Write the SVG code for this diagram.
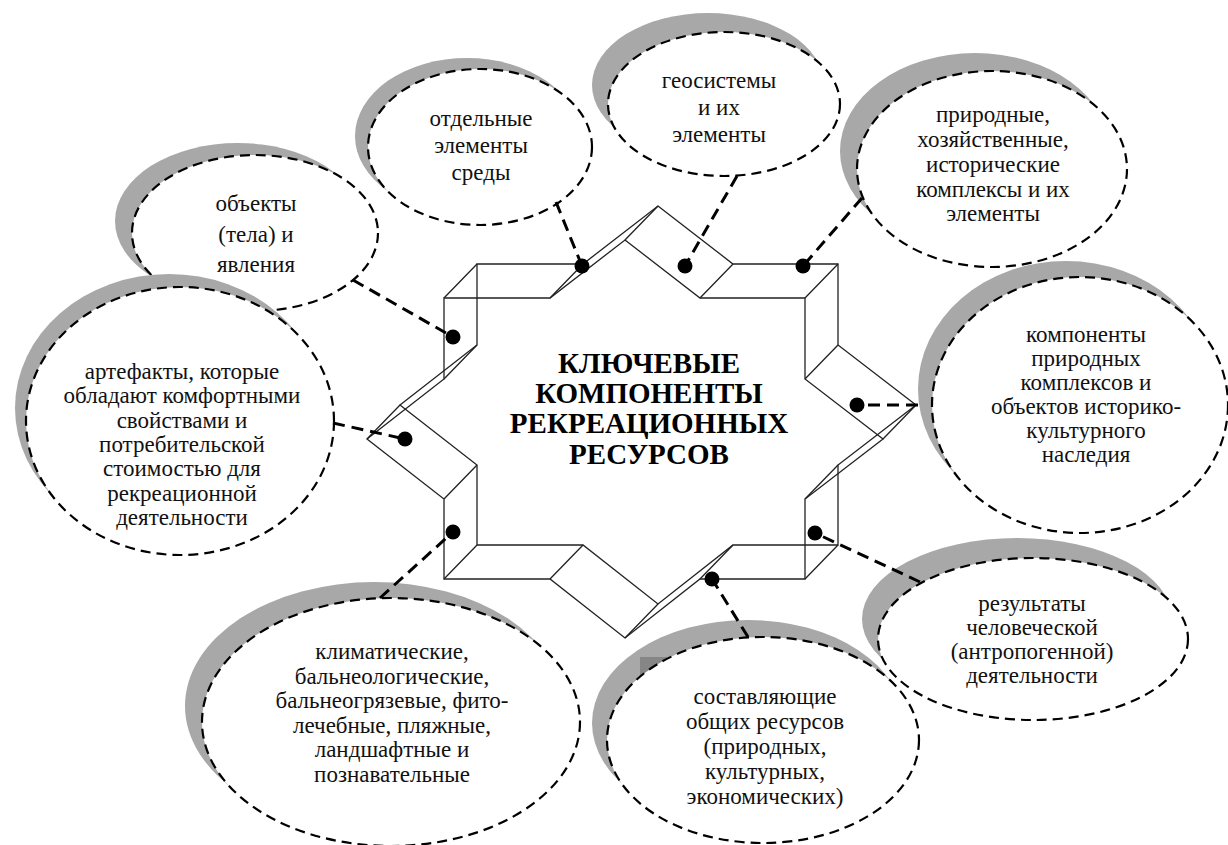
<svg xmlns="http://www.w3.org/2000/svg" width="1228" height="845" viewBox="0 0 1228 845">
<style>
.shadow{fill:#a8a8a8}
.oval{fill:#ffffff;stroke:#000;stroke-width:2.2;stroke-dasharray:10 6}
text{font-family:"Liberation Serif",Tinos,"Times New Roman",Times,"DejaVu Serif",serif}
.txt{font-size:23px;fill:#111;text-anchor:middle}
.title{font-size:29px;font-weight:bold;fill:#000;text-anchor:middle}
.star{fill:none;stroke:#222;stroke-width:1.3;stroke-linejoin:miter}
.conn{fill:none;stroke:#000;stroke-width:3;stroke-dasharray:12 7}
.dot{fill:#000}
</style>
<rect width="1228" height="845" fill="#fff"/>
<g id="center">
<polygon class="star" points="658,206 733,264 838,264 838,345 916,405 838,465 838,545 733,545 658,604 583,545 477,545 477,465 400,405 477,345 477,264 583,264"/>
<polygon class="star" transform="translate(-33,34)" points="658,206 733,264 838,264 838,345 916,405 838,465 838,545 733,545 658,604 583,545 477,545 477,465 400,405 477,345 477,264 583,264"/>
<path class="star" d="M658,206l-33,34M733,264l-33,34M838,264l-33,34M838,345l-33,34M916,405l-33,34M838,465l-33,34M838,545l-33,34M733,545l-33,34M658,604l-33,34M583,545l-33,34M477,545l-33,34M477,465l-33,34M400,405l-33,34M477,345l-33,34M477,264l-33,34M583,264l-33,34"/>
<text class="title"><tspan x="649" y="373">КЛЮЧЕВЫЕ</tspan><tspan x="649" y="403">КОМПОНЕНТЫ</tspan><tspan x="649" y="433">РЕКРЕАЦИОННЫХ</tspan><tspan x="649" y="464">РЕСУРСОВ</tspan></text>
</g>
<g id="n-objects">
<ellipse class="shadow" cx="238" cy="221" rx="123" ry="78"/>
<ellipse class="oval" cx="255" cy="233" rx="123" ry="78"/>
<text class="txt"><tspan x="256" y="211">объекты</tspan><tspan x="256" y="242">(тела) и</tspan><tspan x="256" y="272">явления</tspan></text>
</g>
<g id="n-separate">
<ellipse class="shadow" cx="467" cy="136" rx="112" ry="78"/>
<ellipse class="oval" cx="480" cy="147" rx="112" ry="78"/>
<text class="txt"><tspan x="481" y="126">отдельные</tspan><tspan x="481" y="153">элементы</tspan><tspan x="481" y="180">среды</tspan></text>
</g>
<g id="n-geo">
<ellipse class="shadow" cx="708" cy="85" rx="116" ry="72"/>
<ellipse class="oval" cx="724" cy="104" rx="116" ry="72"/>
<text class="txt"><tspan x="719" y="88">геосистемы</tspan><tspan x="719" y="115">и их</tspan><tspan x="719" y="142">элементы</tspan></text>
</g>
<g id="n-natural">
<ellipse class="shadow" cx="975" cy="151" rx="135" ry="98"/>
<ellipse class="oval" cx="992" cy="169" rx="135" ry="98"/>
<text class="txt"><tspan x="993" y="122">природные,</tspan><tspan x="993" y="147">хозяйственные,</tspan><tspan x="993" y="172">исторические</tspan><tspan x="993" y="197">комплексы и их</tspan><tspan x="993" y="221">элементы</tspan></text>
</g>
<g id="n-components">
<ellipse class="shadow" cx="1066" cy="389" rx="148" ry="128"/>
<ellipse class="oval" cx="1080" cy="405" rx="148" ry="128"/>
<text class="txt"><tspan x="1086" y="342">компоненты</tspan><tspan x="1086" y="366">природных</tspan><tspan x="1086" y="390">комплексов и</tspan><tspan x="1086" y="414">объектов историко-</tspan><tspan x="1086" y="438">культурного</tspan><tspan x="1086" y="462">наследия</tspan></text>
</g>
<g id="n-artefacts">
<ellipse class="shadow" cx="169" cy="408" rx="154" ry="134"/>
<ellipse class="oval" cx="180" cy="421" rx="154" ry="134"/>
<text class="txt"><tspan x="182" y="379">артефакты, которые</tspan><tspan x="182" y="403">обладают комфортными</tspan><tspan x="182" y="428">свойствами и</tspan><tspan x="182" y="452">потребительской</tspan><tspan x="182" y="476">стоимостью для</tspan><tspan x="182" y="501">рекреационной</tspan><tspan x="182" y="525">деятельности</tspan></text>
</g>
<g id="n-climatic">
<ellipse class="shadow" cx="374" cy="706" rx="189" ry="124"/>
<ellipse class="oval" cx="391" cy="722" rx="189" ry="124"/>
<text class="txt"><tspan x="392" y="659">климатические,</tspan><tspan x="392" y="684">бальнеологические,</tspan><tspan x="392" y="708">бальнеогрязевые, фито-</tspan><tspan x="392" y="733">лечебные, пляжные,</tspan><tspan x="392" y="757">ландшафтные и</tspan><tspan x="392" y="782">познавательные</tspan></text>
</g>
<g id="n-general">
<ellipse class="shadow" cx="748" cy="723" rx="156" ry="103"/>
<rect x="640" y="657" width="27" height="27" fill="#868686"/>
<ellipse class="oval" cx="763" cy="740" rx="156" ry="103"/>
<text class="txt"><tspan x="765" y="704">составляющие</tspan><tspan x="765" y="729">общих ресурсов</tspan><tspan x="765" y="754">(природных,</tspan><tspan x="765" y="779">культурных,</tspan><tspan x="765" y="804">экономических)</tspan></text>
</g>
<g id="n-results">
<ellipse class="shadow" cx="1017" cy="619" rx="155" ry="81"/>
<ellipse class="oval" cx="1033" cy="639" rx="155" ry="81"/>
<text class="txt"><tspan x="1032" y="611">результаты</tspan><tspan x="1032" y="635">человеческой</tspan><tspan x="1032" y="659">(антропогенной)</tspan><tspan x="1032" y="683">деятельности</tspan></text>
</g>
<g id="connectors">
<path class="conn" d="M353,280L453,337"/>
<path class="conn" d="M556,202L582,266"/>
<path class="conn" d="M737,176L685,266"/>
<path class="conn" d="M862,198L803,266"/>
<path class="conn" d="M918,405L857,405"/>
<path class="conn" d="M920,582L815,533"/>
<path class="conn" d="M748,637L712,579"/>
<path class="conn" d="M380,598L453,532"/>
<path class="conn" d="M333,423L405,439"/>
<circle class="dot" cx="453" cy="337" r="7.5"/>
<circle class="dot" cx="582" cy="266" r="7.5"/>
<circle class="dot" cx="685" cy="266" r="7.5"/>
<circle class="dot" cx="803" cy="266" r="7.5"/>
<circle class="dot" cx="857" cy="405" r="7.5"/>
<circle class="dot" cx="815" cy="533" r="7.5"/>
<circle class="dot" cx="712" cy="579" r="7.5"/>
<circle class="dot" cx="453" cy="532" r="7.5"/>
<circle class="dot" cx="405" cy="439" r="7.5"/>
</g>
</svg>
